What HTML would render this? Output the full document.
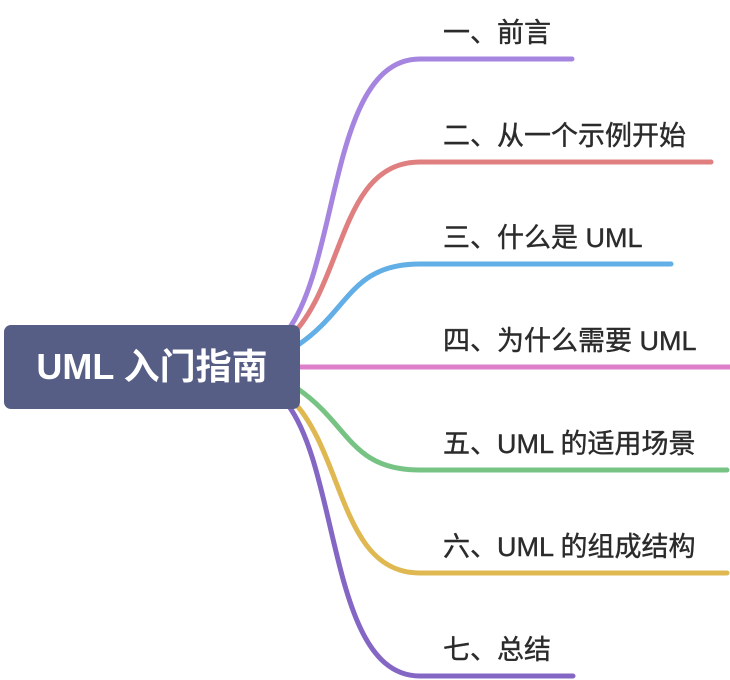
<!DOCTYPE html>
<html><head><meta charset="utf-8"><style>
body{margin:0;width:730px;height:680px;background:#fff;position:relative;overflow:hidden;font-family:"Liberation Sans","Noto Sans CJK SC",sans-serif;}
.root{position:absolute;left:4px;top:325px;width:296px;height:84px;background:#565e85;border-radius:7px;color:#fff;font-size:36px;font-weight:bold;line-height:84px;text-align:center;}
.l{position:absolute;left:443px;font-size:27px;color:#2b2b2b;line-height:30px;white-space:nowrap;-webkit-text-stroke:0.4px #2b2b2b;}
</style></head><body>
<svg width="730" height="680" style="position:absolute;left:0;top:0" fill="none" stroke-width="5" stroke-linecap="round">
<path d="M288 330 C 340 260, 330 59, 420 59 L 572 59" stroke="#a585e0"/>
<path d="M292 335 C 345 280, 340 162, 420 162 L 711 162" stroke="#e07f7f"/>
<path d="M298 345 C 350 310, 350 264, 420 264 L 671 264" stroke="#62aee6"/>
<path d="M300 367 L 730 367" stroke="#de7fca"/>
<path d="M298 389 C 350 425, 350 470, 420 470 L 727 470" stroke="#76c383"/>
<path d="M292 400 C 345 455, 340 573, 420 573 L 727 573" stroke="#dfb851"/>
<path d="M288 405 C 340 475, 330 676, 420 676 L 573 676" stroke="#8467c4"/>
</svg>
<div class="root">UML 入门指南</div>
<div class="l" style="top:18px">一、前言</div>
<div class="l" style="top:121px">二、从一个示例开始</div>
<div class="l" style="top:223px">三、什么是 UML</div>
<div class="l" style="top:326px">四、为什么需要 UML</div>
<div class="l" style="top:429px">五、UML 的适用场景</div>
<div class="l" style="top:532px">六、UML 的组成结构</div>
<div class="l" style="top:635px">七、总结</div>
</body></html>
